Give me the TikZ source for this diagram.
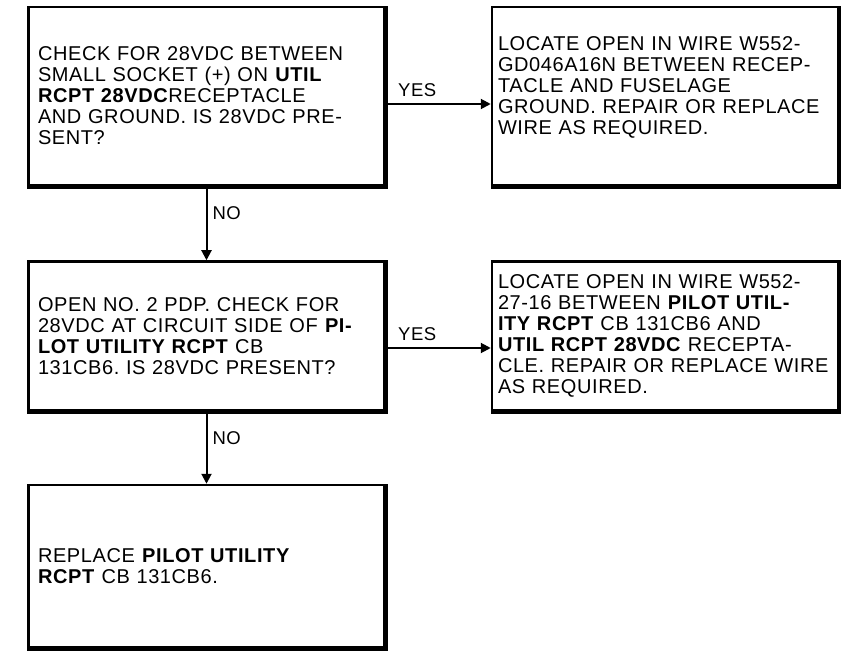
\documentclass[tikz,border=0pt]{standalone}
\usepackage{fontspec}
\setmainfont{Liberation Sans}[LetterSpace=3.0]
\usepackage{tikz}
\usetikzlibrary{arrows.meta,positioning}

\newcommand{\boxfont}{\fontsize{20}{21}\selectfont\frenchspacing}
\newcommand{\lblfont}{\fontsize{18.5}{20}\selectfont}

\begin{document}
\begin{tikzpicture}[
    x=1pt, y=-1pt,
    stepbox/.style={rectangle, draw=black, line width=2.5pt, align=left, font=\boxfont, inner ysep=6pt},
    leftbox/.style={stepbox, text width=337pt, inner xsep=9.5pt},
    rightbox/.style={stepbox, text width=334pt, inner xsep=6pt},
    shade/.style={draw=black, line width=5pt},
    flow/.style={draw=black, line width=2pt, -{Triangle[width=10pt,length=10pt]}},
    lbl/.style={font=\lblfont, text=black}
]
\useasboundingbox (0,0) rectangle (841,655);

% left column
\node[leftbox, minimum height=178pt] (check_socket) at (206.5, 96) {CHECK FOR 28VDC BETWEEN \\ SMALL SOCKET (+) ON \textbf{UTIL} \\ \textbf{RCPT 28VDC}RECEPTACLE \\ AND GROUND. IS 28VDC PRE- \\ SENT?};
\node[leftbox, minimum height=149pt] (check_cb) at (206.5, 336) {OPEN NO. 2 PDP. CHECK FOR \\ 28VDC AT CIRCUIT SIDE OF \textbf{PI-} \\ \textbf{LOT UTILITY RCPT} CB \\ 131CB6. IS 28VDC PRESENT?};
\node[leftbox, minimum height=162pt] (replace_cb) at (206.5, 566) {REPLACE \textbf{PILOT UTILITY} \\ \textbf{RCPT} CB 131CB6.};

% right column
\node[rightbox, minimum height=178pt] (open_ground) at (665, 96) {LOCATE OPEN IN WIRE W552- \\ GD046A16N BETWEEN RECEP- \\ TACLE AND FUSELAGE \\ GROUND. REPAIR OR REPLACE \\ WIRE AS REQUIRED. \\ \mbox{}};
\node[rightbox, minimum height=149pt] (open_wire) at (665, 336) {LOCATE OPEN IN WIRE W552- \\ 27-16 BETWEEN \textbf{PILOT UTIL-} \\ \textbf{ITY RCPT} CB 131CB6 AND \\ \textbf{UTIL RCPT 28VDC} RECEPTA- \\ CLE. REPAIR OR REPLACE WIRE \\ AS REQUIRED.};

% heavy bottom and right edges
\foreach \b in {check_socket, check_cb, replace_cb, open_ground, open_wire}
    \draw[shade] (\b.south west) -| (\b.north east);

% connectors
\draw[flow] (check_socket.south) -- node[lbl, right, pos=0.36, inner sep=5pt] {NO} (check_cb.north);
\draw[flow] (check_cb.south) -- node[lbl, right, pos=0.36, inner sep=5pt] {NO} (replace_cb.north);
\draw[flow] ([yshift=-8pt]check_socket.east) -- node[lbl, above, pos=0.3, inner sep=6pt] {YES} ([yshift=-8pt]check_socket.east -| open_ground.west);
\draw[flow] ([yshift=-12pt]check_cb.east) -- node[lbl, above, pos=0.3, inner sep=6pt] {YES} ([yshift=-12pt]check_cb.east -| open_wire.west);

\end{tikzpicture}
\end{document}
